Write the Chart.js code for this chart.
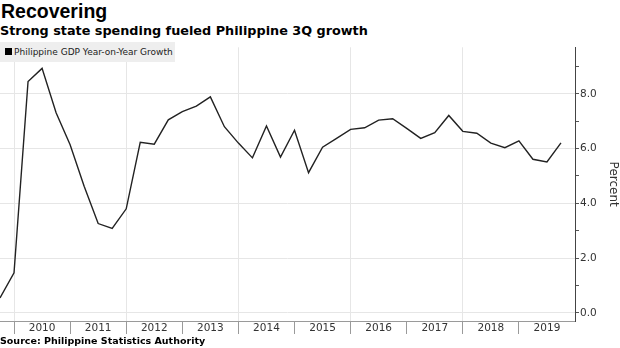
<!DOCTYPE html>
<html>
<head>
<meta charset="utf-8">
<script src="https://cdn.jsdelivr.net/npm/chart.js@4"></script>
<style>
    body { margin: 0; background: #fff; width: 620px; height: 348px; position: relative; overflow: hidden; }
    .title { position: absolute; left: 1px; top: 0px; font: bold 19.5px "Liberation Sans", Arial, sans-serif; color: #000; }
    .subtitle { position: absolute; left: 0px; top: 23px; font: bold 12.8px "DejaVu Sans", Verdana, sans-serif; color: #000; white-space: nowrap; }
    .source { position: absolute; left: 0px; top: 335px; font: bold 9.5px "DejaVu Sans", Verdana, sans-serif; color: #000; white-space: nowrap; }
    .chart-box { position: absolute; left: 0; top: 40px; width: 620px; height: 296px; }
    .legend { position: absolute; left: 0; top: 42px; width: 175px; height: 20px; background: #eeeeee;
              font: 9px "DejaVu Sans", Verdana, sans-serif; color: #222; line-height: 20px; white-space: nowrap; }
    .legend span { display: inline-block; width: 7px; height: 7px; background: #000; margin: 0 2px 0 5px; vertical-align: -0px; }
</style>
</head>
<body>
<div class="title">Recovering</div>
<div class="subtitle">Strong state spending fueled Philippine 3Q growth</div>
<div class="chart-box"><canvas id="gdpChart" width="620" height="296"></canvas></div>
<div class="legend"><span></span>Philippine GDP Year-on-Year Growth</div>
<div class="source">Source: Philippine Statistics Authority</div>

<script>
// Quarters (plotted at quarter end)
const quarters = [
    '2009 Q3', '2009 Q4',
    '2010 Q1', '2010 Q2', '2010 Q3', '2010 Q4',
    '2011 Q1', '2011 Q2', '2011 Q3', '2011 Q4',
    '2012 Q1', '2012 Q2', '2012 Q3', '2012 Q4',
    '2013 Q1', '2013 Q2', '2013 Q3', '2013 Q4',
    '2014 Q1', '2014 Q2', '2014 Q3', '2014 Q4',
    '2015 Q1', '2015 Q2', '2015 Q3', '2015 Q4',
    '2016 Q1', '2016 Q2', '2016 Q3', '2016 Q4',
    '2017 Q1', '2017 Q2', '2017 Q3', '2017 Q4',
    '2018 Q1', '2018 Q2', '2018 Q3', '2018 Q4',
    '2019 Q1', '2019 Q2', '2019 Q3'
];

// GDP growth, percent year-on-year
const gdpGrowth = [
    0.54, 1.46,
    8.45, 8.93, 7.31, 6.14,
    4.62, 3.26, 3.08, 3.80,
    6.23, 6.16, 7.05, 7.35,
    7.55, 7.89, 6.80, 6.20,
    5.66, 6.83, 5.69, 6.67,
    5.12, 6.05, 6.37, 6.70,
    6.76, 7.04, 7.09, 6.74,
    6.37, 6.58, 7.21, 6.63,
    6.56, 6.20, 6.03, 6.28,
    5.61, 5.51, 6.21
];

const yearLabels = ['2010', '2011', '2012', '2013', '2014', '2015', '2016', '2017', '2018', '2019'];
const yTickValues = [0, 1, 2, 3, 4, 5, 6, 7, 8, 9];

// quarter string -> fractional year at quarter end
function quarterEnd(q) {
    const parts = q.split(' Q');
    return Number(parts[0]) + Number(parts[1]) / 4;
}

const points = quarters.map((q, i) => ({ x: quarterEnd(q), y: gdpGrowth[i] }));

const ctx = document.getElementById('gdpChart').getContext('2d');
const chart = new Chart(ctx, {
    type: 'line',
    data: {
        datasets: [{
            label: 'Philippine GDP Year-on-Year Growth',
            data: points,
            borderColor: '#222222',
            borderWidth: 1.4,
            pointRadius: 0,
            tension: 0,
            fill: false
        }]
    },
    options: {
        responsive: false,
        animation: false,
        layout: { padding: { top: 3, left: 0, right: 0, bottom: 0 } },
        plugins: {
            legend: { display: false },
            tooltip: { enabled: false }
        },
        scales: {
            x: {
                type: 'linear',
                min: 2009.75,
                max: 2020,
                afterBuildTicks: function(scale) {
                    const ticks = [];
                    yearLabels.forEach(y => {
                        ticks.push({ value: Number(y) });
                        ticks.push({ value: Number(y) + 0.5 });
                    });
                    scale.ticks = ticks;
                },
                afterFit: function(scale) { scale.height = 15; },
                border: { display: true, color: '#9a9a9a', width: 1 },
                grid: {
                    tickLength: 13,
                    color: function(c) {
                        const v = c.tick ? c.tick.value : 0;
                        return (v % 2 === 0) ? '#e6e6e6' : 'rgba(0,0,0,0)';
                    },
                    tickColor: function(c) {
                        const v = c.tick ? c.tick.value : 0;
                        return (v % 1 === 0) ? '#9a9a9a' : 'rgba(0,0,0,0)';
                    }
                },
                ticks: {
                    autoSkip: false,
                    maxRotation: 0,
                    padding: -12,
                    color: '#333333',
                    font: { family: 'DejaVu Sans', size: 10.5 },
                    callback: function(value) {
                        return (value % 1 === 0.5) ? String(Math.floor(value)) : '';
                    }
                }
            },
            y: {
                position: 'right',
                min: -0.3,
                max: 9.7,
                afterBuildTicks: function(scale) {
                    scale.ticks = yTickValues.map(v => ({ value: v }));
                },
                afterFit: function(scale) { scale.width = 45; },
                border: { display: true, color: '#444444', width: 1 },
                grid: {
                    tickLength: 4,
                    color: function(c) {
                        const v = c.tick ? c.tick.value : 0;
                        return (v % 2 === 0) ? '#e6e6e6' : 'rgba(0,0,0,0)';
                    },
                    tickColor: '#555555'
                },
                ticks: {
                    autoSkip: false,
                    padding: 1,
                    color: '#333333',
                    font: { family: 'DejaVu Sans', size: 10.5 },
                    callback: function(value) {
                        return (value % 2 === 0) ? value.toFixed(1) : '';
                    }
                },
                title: {
                    display: true,
                    text: 'Percent',
                    color: '#333333',
                    font: { family: 'DejaVu Sans', size: 12 },
                    padding: { top: 0, bottom: 4 }
                }
            }
        }
    }
});
</script>
</body>
</html>
